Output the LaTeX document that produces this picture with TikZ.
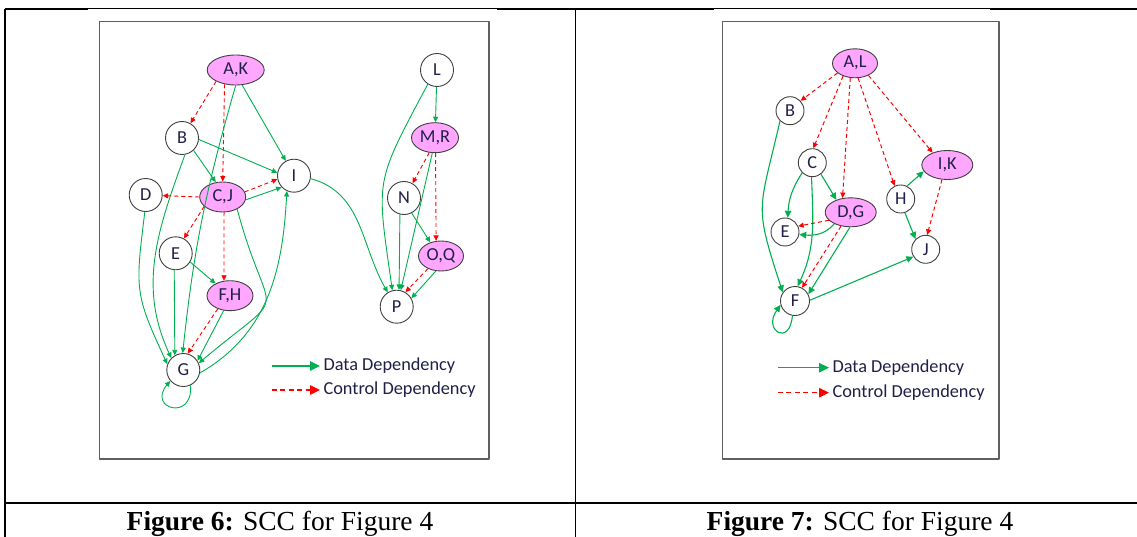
\documentclass[tikz,border=0pt]{standalone}
\usepackage{fontspec}
\setmainfont{Carlito}
\newfontfamily\capfont{Liberation Serif}
\usetikzlibrary{arrows.meta,shapes.geometric}

\definecolor{datagreen}{RGB}{0,176,80}
\definecolor{ctrlred}{RGB}{255,0,0}
\definecolor{sccpink}{RGB}{255,166,255}
\definecolor{rimgray}{RGB}{64,64,64}
\definecolor{labelblue}{RGB}{32,32,72}

\begin{document}
\begin{tikzpicture}[x=1pt,y=1pt,line join=round,
                    font=\fontsize{18.3}{21}\selectfont]
  \tikzstyle{every node}=[text=labelblue]
  \tikzstyle{blk}=[circle,draw=rimgray,fill=white,line width=0.9pt,minimum size=33pt,inner sep=0pt]
  \tikzstyle{sblk}=[blk,minimum size=28pt]
  \tikzstyle{scc}=[ellipse,draw=rimgray,fill=sccpink,line width=0.9pt,minimum height=30pt,inner sep=0pt]
  \tikzstyle{data}=[-{Triangle[length=5.5pt,width=5pt]},datagreen,line width=0.9pt]
  \tikzstyle{ctrl}=[-{Triangle[length=5.5pt,width=5pt]},ctrlred,line width=0.9pt,dash pattern=on 4pt off 3pt]
  \tikzstyle{sdata}=[-{Triangle[length=7pt,width=6.5pt]},datagreen,line width=1.1pt]
  \tikzstyle{sctrl}=[ctrl,line width=1pt]
  \tikzstyle{keydata}=[-{Triangle[length=10pt,width=9.5pt]},datagreen,line width=1.2pt]
  \tikzstyle{keyctrl}=[keydata,ctrlred,dash pattern=on 5pt off 3.5pt]
  \tikzstyle{frame}=[draw={rgb,255:red,96;green,96;blue,96},line width=1.3pt]
  \tikzstyle{rule}=[line width=1.8pt]

  \path[use as bounding box,fill=white] (0,0) rectangle (1137,-537);

  \draw[rule] (5,-537) -- (5,-9);
  \draw[rule] (5,-9) -- (88,-9)  (497,-9) -- (714,-9)  (990,-9) -- (1137,-9);
  \draw[line width=0.8pt] (88,-8) -- (497,-8)  (714,-8) -- (990,-8);
  \draw[line width=0.9pt] (575,-9) -- (575,-537);
  \draw[rule] (5,-503) -- (1137,-503);

  \draw[frame] (99.3,-21.7) rectangle (489,-459);
  \draw[frame] (722.7,-21.7) rectangle (999,-459);

  % Figure 6
  \node[scc,minimum width=57pt] (ak6) at (235.7,-70)    {A,K};
  \node[blk]                    (l6)  at (437,-70)      {L};
  \node[blk]                    (b6)  at (182,-138)     {B};
  \node[scc,minimum width=47pt] (mr6) at (435,-137.7)   {M,R};
  \node[blk]                    (i6)  at (294,-175.7)   {I};
  \node[blk]                    (d6)  at (145.7,-195)   {D};
  \node[scc,minimum width=46pt] (cj6) at (222.7,-197)   {C,J};
  \node[blk]                    (n6)  at (404,-198)     {N};
  \node[blk]                    (e6)  at (175.7,-253.3) {E};
  \node[scc,minimum width=45pt] (oq6) at (441,-256)     {O,Q};
  \node[scc,minimum width=46pt] (fh6) at (230,-295.7)   {F,H};
  \node[blk]                    (p6)  at (396.7,-306.7) {P};
  \node[blk]                    (g6)  at (183.3,-370)   {G};

  \path (ak6.-150) edge[ctrl] (b6.60)
        (ak6.-128) edge[ctrl] (cj6.north)
        (ak6.-67)  edge[data] (i6.119)
        (ak6.-90)  edge[data,out=-106,in=84] (g6.92)
        (b6.-47)   edge[data] (cj6.115)
        (b6.-5)    edge[data] (i6.170)
        (b6.-80)   edge[data,out=-110,in=115] (g6.135)
        (d6.-93)   edge[data,out=-97,in=115,looseness=1.3] (g6.160)
        (cj6.west) edge[ctrl] (d6)
        (cj6.13)   edge[ctrl] (i6.-168)
        (cj6.-7)   edge[data] (i6.-137)
        (cj6.207)  edge[ctrl] (e6.61)
        (cj6.-85)  edge[ctrl] (fh6.112)
        (cj6.-40)  edge[data,out=-75,in=40,looseness=2] (g6.24)
        (e6.-31)   edge[data] (fh6.140)
        (e6.-95)   edge[data] (g6.120)
        (fh6.-133) edge[ctrl] (g6.75)
        (fh6.-113) edge[data] (g6.33)
        (g6.-10)   edge[data,out=30,in=-93] (i6.-115)
        (g6.-65)   edge[data,out=-85,in=-130,looseness=4.5] (g6.-140)
        (i6.-10)   edge[data,out=-15,in=120] (p6.122)
        (l6)       edge[data] (mr6)
        (l6.-123)  edge[data,out=-118,in=98,looseness=1.4] (p6.105)
        (mr6.-111) edge[ctrl] (n6.60)
        (mr6.-88)  edge[ctrl] (oq6.108)
        (mr6.-100) edge[data] (p6.76)
        (n6.-104)  edge[data] (p6.82)
        (n6.-63)   edge[data] (oq6.128)
        (oq6.-136) edge[ctrl] (p6.59)
        (oq6.-109) edge[data] (p6.30);

  \coordinate (kd6) at (271.7,-366);
  \coordinate (kc6) at (271.7,-390);
  \node[anchor=west] (kdt6) at (320,-366) {Data Dependency};
  \node[anchor=west] (kct6) at (320,-390) {Control Dependency};
  \draw[keydata] (kd6) -- (kdt6.west);
  \draw[keyctrl] (kc6) -- (kct6.west);

  % Figure 7
  \node[scc,minimum width=45pt,minimum height=29pt] (al7) at (855,-63.3)   {A,L};
  \node[sblk]                                       (b7)  at (790,-110.7)  {B};
  \node[sblk]                                       (c7)  at (812.3,-162.7) {C};
  \node[scc,minimum width=51pt,minimum height=29pt] (ik7) at (947.3,-165)  {I,K};
  \node[sblk]                                       (h7)  at (900.7,-199)  {H};
  \node[scc,minimum width=51pt,minimum height=29pt] (dg7) at (850.7,-212.3) {D,G};
  \node[sblk]                                       (e7)  at (785,-232)    {E};
  \node[sblk]                                       (j7)  at (925.7,-249.3) {J};
  \node[sblk,minimum size=29pt]                     (f7)  at (795,-301)    {F};

  \path (al7.-151) edge[sctrl] (b7.43)
        (al7.-133) edge[sctrl] (c7.86)
        (al7.-108) edge[sctrl] (dg7.120)
        (al7.-78)  edge[sctrl] (h7.115)
        (al7.-42)  edge[sctrl] (ik7.140)
        (b7.-134)  edge[sdata,out=-103,in=108,looseness=1.4] (f7.145)
        (c7.-135)  edge[sdata,bend right=15] (e7.79)
        (c7.-53)   edge[sdata] (dg7.139)
        (c7.-93)   edge[sdata,out=-88,in=65] (f7.80)
        (dg7.-160) edge[sctrl] (e7.24)
        (dg7.-145) edge[sdata,out=-130,in=-5] (e7.-10)
        (dg7.-125) edge[sctrl] (f7.62)
        (dg7.-93)  edge[sdata] (f7.27)
        (h7.64)    edge[sdata] (ik7.195)
        (h7.-73)   edge[sdata] (j7.135)
        (ik7.-110) edge[sctrl] (j7.84)
        (f7.3)     edge[sdata] (j7.-149)
        (f7.-100)  edge[sdata,out=-95,in=-125,looseness=5] (f7.-165);

  \coordinate (kd7) at (777.7,-367.7);
  \coordinate (kc7) at (777.7,-392.7);
  \node[anchor=west] (kdt7) at (829,-367.7) {Data Dependency};
  \node[anchor=west] (kct7) at (829,-392.7) {Control Dependency};
  \draw[keydata] (kd7) -- (kdt7.west);
  \draw[keyctrl] (kc7) -- (kct7.west);

  % captions
  \node[font=\capfont\fontsize{27.5}{30}\selectfont,text=black,anchor=base] (cap6) at (280,-530)
    {\textbf{Figure 6:} SCC for Figure 4};
  \node[font=\capfont\fontsize{27.5}{30}\selectfont,text=black,anchor=base] (cap7) at (860,-530)
    {\textbf{Figure 7:} SCC for Figure 4};
\end{tikzpicture}
\end{document}
